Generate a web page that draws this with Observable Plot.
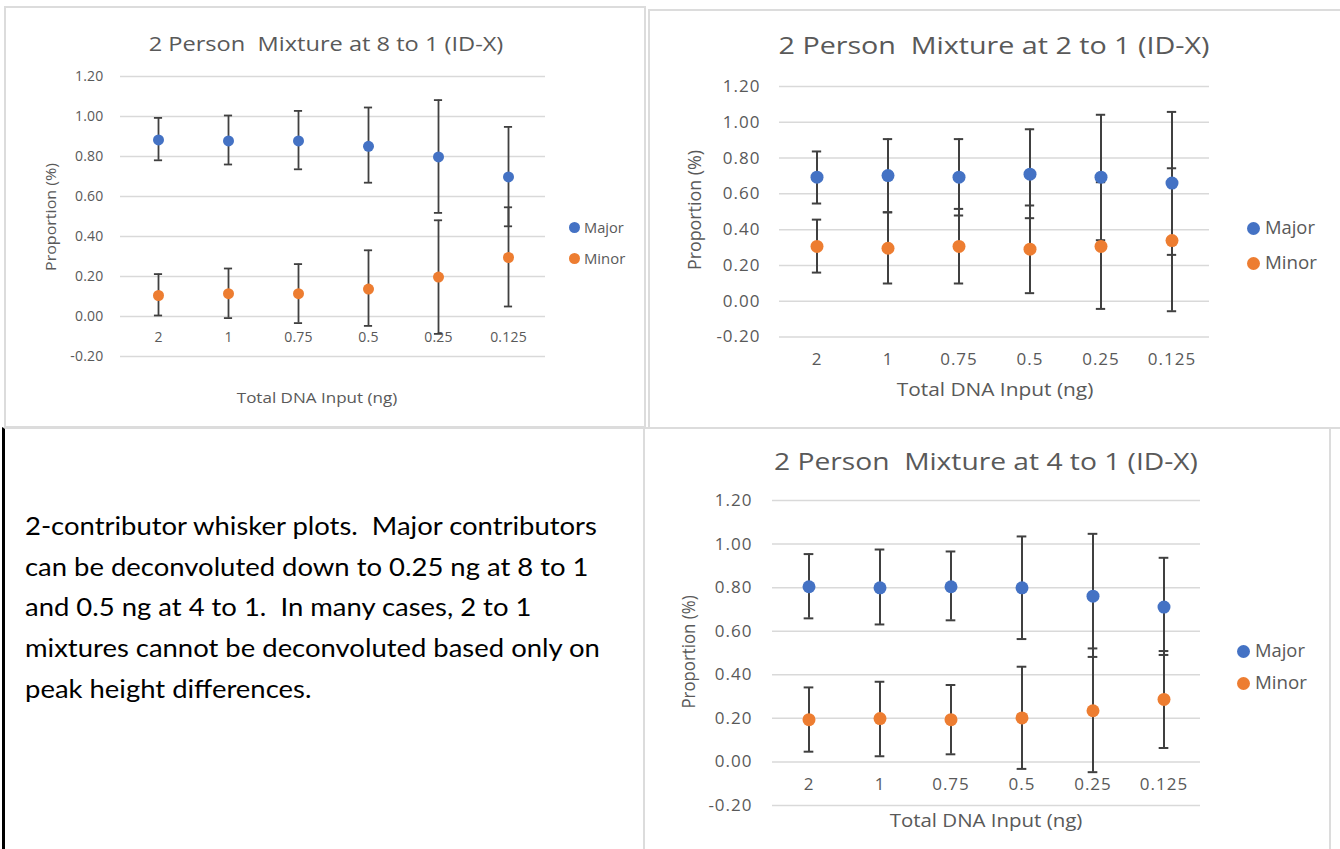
<!DOCTYPE html>
<html><head><meta charset="utf-8">
<script src="https://cdn.jsdelivr.net/npm/d3@7"></script>
<script src="https://cdn.jsdelivr.net/npm/@observablehq/plot@0.6"></script>
<style>
body{margin:0;background:#fff;}
#page{position:relative;width:1340px;height:849px;overflow:hidden;background:#fff;font-family:"Open Sans",sans-serif;}
.abs{position:absolute;}
.lbl{position:absolute;white-space:pre;color:#595959;line-height:1.2;}
</style></head><body><div id="page"></div>
<script>
const categories = ["2","1","0.75","0.5","0.25","0.125"];
const yTicks = [-0.2,0,0.2,0.4,0.6,0.8,1.0,1.2];
const seriesNames = ["Major","Minor"];
const seriesColors = ["#4472C4","#ED7D31"];

// 8 to 1
const major8   = [0.883,0.878,0.878,0.851,0.798,0.698];
const major8Lo = [0.781,0.760,0.736,0.669,0.518,0.451];
const major8Hi = [0.993,1.005,1.028,1.045,1.082,0.948];
const minor8   = [0.105,0.114,0.114,0.137,0.197,0.295];
const minor8Lo = [0.005,-0.008,-0.033,-0.047,-0.087,0.050];
const minor8Hi = [0.212,0.240,0.262,0.331,0.481,0.546];

// 2 to 1
const major2   = [0.693,0.702,0.693,0.710,0.693,0.660];
const major2Lo = [0.546,0.497,0.479,0.464,0.341,0.259];
const major2Hi = [0.837,0.906,0.906,0.961,1.042,1.058];
const minor2   = [0.306,0.296,0.306,0.291,0.306,0.339];
const minor2Lo = [0.160,0.099,0.099,0.045,-0.043,-0.056];
const minor2Hi = [0.456,0.497,0.516,0.535,0.665,0.743];

// 4 to 1
const major4   = [0.804,0.799,0.804,0.799,0.761,0.711];
const major4Lo = [0.659,0.631,0.650,0.564,0.482,0.491];
const major4Hi = [0.954,0.975,0.966,1.035,1.047,0.937];
const minor4   = [0.194,0.199,0.194,0.202,0.235,0.287];
const minor4Lo = [0.047,0.026,0.035,-0.032,-0.047,0.064];
const minor4Hi = [0.342,0.368,0.353,0.437,0.521,0.509];

const titles = ["2 Person  Mixture at 8 to 1 (ID-X)", "2 Person  Mixture at 2 to 1 (ID-X)", "2 Person  Mixture at 4 to 1 (ID-X)"];
const xTitle = "Total DNA Input (ng)";
const yTitle = "Proportion (%)";
const noteLines = [
  "2-contributor whisker plots.  Major contributors",
  "can be deconvoluted down to 0.25 ng at 8 to 1",
  "and 0.5 ng at 4 to 1.  In many cases, 2 to 1",
  "mixtures cannot be deconvoluted based only on",
  "peak height differences."
];

const page = document.getElementById("page");

function box(css) {
  const d = document.createElement("div");
  d.className = "abs";
  d.style.cssText += css;
  page.appendChild(d);
  return d;
}
// centered label, stretched horizontally to a target length
function label(text, x, y, size, target, rotate) {
  const d = document.createElement("div");
  d.className = "lbl";
  d.textContent = text;
  d.style.left = x + "px"; d.style.top = y + "px"; d.style.fontSize = size + "px";
  page.appendChild(d);
  const s = target ? target / d.offsetWidth : 1;
  d.style.transform = `translate(-50%,-50%)${rotate ? " rotate(-90deg)" : ""} scaleX(${s})`;
}
// left-anchored label
function labelLeft(text, x, y, size, target) {
  const d = document.createElement("div");
  d.className = "lbl";
  d.textContent = text;
  d.style.left = x + "px"; d.style.top = y + "px"; d.style.fontSize = size + "px";
  d.style.transformOrigin = "left center";
  page.appendChild(d);
  const s = target ? target / d.offsetWidth : 1;
  d.style.transform = `translateY(-50%) scaleX(${s})`;
}
function legend(g) {
  seriesNames.forEach((n, i) => {
    const y = g.legY + i * g.legGap;
    box(`left:${g.legX - g.legR}px;top:${y - g.legR}px;width:${2*g.legR}px;height:${2*g.legR}px;border-radius:50%;background:${seriesColors[i]};`);
    labelLeft(n, g.legTextX, y, g.lab, n === "Major" ? g.legW : g.legW * 1.04);
  });
}

// panel borders
box("left:4px;top:6px;width:642px;height:422px;border:2px solid #dcdcdc;box-sizing:border-box;");
box("left:648px;top:9px;width:700px;height:420px;border:2px solid #dcdcdc;box-sizing:border-box;");
box("left:643px;top:427px;width:688px;height:440px;border:2px solid #dcdcdc;box-sizing:border-box;");
box("left:2px;top:427px;width:643px;height:440px;border-left:3px solid #000;border-top:2px solid #dcdcdc;box-sizing:border-box;");

const fmt = d => d.toFixed(2);

function drawChart(cfg, g) {
  const rows = [];
  const series = [
    {name: "Major", v: cfg.major, lo: cfg.majorLo, hi: cfg.majorHi},
    {name: "Minor", v: cfg.minor, lo: cfg.minorLo, hi: cfg.minorHi}
  ];
  for (const s of series) categories.forEach((c, i) => rows.push({cat: c, series: s.name, v: s.v[i], lo: s.lo[i], hi: s.hi[i]}));
  const mL = 70, mR = 10, mT = 10, mB = 40;
  const width = g.right - g.left + mL + mR;
  const height = g.bottom - g.top + mT + mB;
  const bw = (g.right - g.left) / categories.length;
  const capInset = (bw - g.cap) / 2;
  const errStyle = {stroke: "#404040", strokeWidth: g.bar};
  const tickText = {fontSize: g.tick, color: "#595959"};
  const marks = [
    Plot.ruleY(yTicks, {stroke: "#d9d9d9", strokeWidth: g.grid}),
    Plot.axisY({ticks: yTicks, tickFormat: fmt, tickSize: 0, tickPadding: g.yPad, label: null, ...tickText}),
    Plot.axisX({tickSize: 0, tickPadding: g.xPad, label: null, ...tickText}),
    Plot.ruleX(rows, {x: "cat", y1: "lo", y2: "hi", ...errStyle}),
    Plot.tickY(rows, {x: "cat", y: "lo", insetLeft: capInset, insetRight: capInset, ...errStyle}),
    Plot.tickY(rows, {x: "cat", y: "hi", insetLeft: capInset, insetRight: capInset, ...errStyle}),
    Plot.dot(rows, {x: "cat", y: "v", r: g.r, fill: "series", stroke: null})
  ];
  if (g.axisLine) marks.unshift(Plot.ruleX(rows.slice(0, 1), {frameAnchor: "left", y1: () => -0.2, y2: () => 1.2, stroke: "#d9d9d9", strokeWidth: 1.5}));
  const svg = Plot.plot({
    width, height, marginLeft: mL, marginRight: mR, marginTop: mT, marginBottom: mB,
    x: {type: "band", domain: categories, padding: 0},
    y: {domain: [-0.2, 1.2]},
    color: {domain: seriesNames, range: seriesColors},
    style: {fontFamily: '"Open Sans", sans-serif', background: "transparent", overflow: "visible"},
    marks
  });
  svg.querySelectorAll("text").forEach(t => t.style.letterSpacing = g.ls + "px");
  svg.style.position = "absolute";
  svg.style.left = (g.left - mL) + "px";
  svg.style.top = (g.top - mT) + "px";
  page.appendChild(svg);
  label(cfg.title, g.titleX, g.titleY, g.titleSize, g.titleW);
  label(xTitle, g.xtX, g.xtY, g.lab, g.xtW);
  label(yTitle, g.ytX, g.ytY, g.lab, g.ytW, true);
  legend(g);
}

drawChart({title: titles[0], major: major8, majorLo: major8Lo, majorHi: major8Hi, minor: minor8, minorLo: minor8Lo, minorHi: minor8Hi},
  {left: 120, right: 545, top: 76, bottom: 356, grid: 1.5, bar: 1.8, cap: 9, r: 5.5, tick: 14, ls: 0.2, yPad: 17, xPad: -24, axisLine: true,
   titleX: 326, titleY: 44, titleSize: 20, titleW: 355, xtX: 317, xtY: 397, xtW: 160, ytX: 50, ytY: 217, ytW: 108, lab: 15,
   legX: 574, legY: 227, legGap: 31, legR: 5.5, legTextX: 584, legW: 40});

drawChart({title: titles[1], major: major2, majorLo: major2Lo, majorHi: major2Hi, minor: minor2, minorLo: minor2Lo, minorHi: minor2Hi},
  {left: 779, right: 1209, top: 86, bottom: 336.5, grid: 1.5, bar: 2, cap: 10, r: 6.5, tick: 17, ls: 1, yPad: 19, xPad: 16, axisLine: false,
   titleX: 994, titleY: 45, titleSize: 24, titleW: 431, xtX: 995, xtY: 390, xtW: 197, ytX: 695, ytY: 210, ytW: 120, lab: 18,
   legX: 1253, legY: 228, legGap: 35, legR: 6.5, legTextX: 1265, legW: 50});

drawChart({title: titles[2], major: major4, majorLo: major4Lo, majorHi: major4Hi, minor: minor4, minorLo: minor4Lo, minorHi: minor4Hi},
  {left: 772, right: 1200, top: 500, bottom: 805, grid: 1.5, bar: 2, cap: 10, r: 6.5, tick: 17, ls: 1, yPad: 20, xPad: -28, axisLine: false,
   titleX: 986, titleY: 461, titleSize: 24, titleW: 424, xtX: 986, xtY: 821, xtW: 193, ytX: 689, ytY: 652, ytW: 113, lab: 18,
   legX: 1243, legY: 651, legGap: 32, legR: 6.5, legTextX: 1255, legW: 50});

// note text
const note = box("left:25px;top:505px;font-family:Lato,sans-serif;font-size:25px;line-height:40.7px;color:#000;white-space:pre;transform-origin:left top;");
note.textContent = noteLines.join("\n");
const firstLine = document.createElement("span");
firstLine.style.cssText = "position:absolute;visibility:hidden;font-family:Lato,sans-serif;font-size:25px;white-space:pre;";
firstLine.textContent = noteLines[0];
page.appendChild(firstLine);
note.style.transform = `scaleX(${572 / firstLine.offsetWidth})`;
firstLine.remove();
</script>
</body></html>
